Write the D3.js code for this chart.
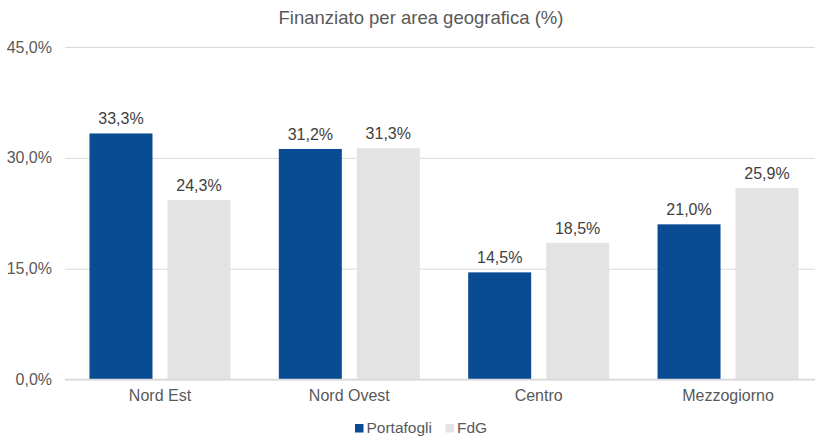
<!DOCTYPE html>
<html><head><meta charset="utf-8">
<script src="https://cdn.jsdelivr.net/npm/d3@7"></script>
<style>body{margin:0;background:#fff;}svg{display:block;font-family:"Liberation Sans",Arial,sans-serif;}</style>
</head><body>
<script>
const categories = ["Nord Est", "Nord Ovest", "Centro", "Mezzogiorno"];
const seriesNames = ["Portafogli", "FdG"];
const portafogli = [33.3, 31.2, 14.5, 21.0];
const fdg = [24.3, 31.3, 18.5, 25.9];
const yTicks = [0, 15, 30, 45];
const title = "Finanziato per area geografica (%)";
const colors = ["#0a4c94", "#e3e3e3"];

const W = 815, H = 437;
const svg = d3.select("body").append("svg").attr("width", W).attr("height", H);
const fmt = v => d3.format(".1f")(v).replace(".", ",") + "%";

const x = d3.scaleBand().domain(categories).range([65.3, 822.7]).paddingInner(0).paddingOuter(0);
const xs = d3.scaleBand().domain(seriesNames).range([0, x.bandwidth()]).paddingInner(0.192).paddingOuter(0.31);
const y = d3.scaleLinear().domain([0, 45]).range([379.5, 47]);

// title
svg.append("text").attr("x", 421).attr("y", 24).attr("text-anchor", "middle")
  .attr("font-size", 18.5).attr("fill", "#595959").text(title);

// grid
const yAxis = d3.axisLeft(y).tickValues(yTicks).tickFormat(fmt).tickSize(-(W - 65)).tickPadding(13);
const gy = svg.append("g").attr("transform", "translate(65,0)").call(yAxis);
gy.select(".domain").remove();
gy.selectAll(".tick line").attr("stroke", "#d9d9d9").attr("stroke-width", 1);
gy.selectAll(".tick text").attr("font-size", 16).attr("fill", "#595959").attr("font-family", "Liberation Sans, Arial, sans-serif");

const data = categories.map((c, i) => ({cat: c, vals: [portafogli[i], fdg[i]]}));
const groups = svg.selectAll("g.cat").data(data).join("g").attr("class", "cat")
  .attr("transform", d => `translate(${x(d.cat)},0)`);
groups.selectAll("rect").data(d => d.vals.map((v, j) => ({s: seriesNames[j], v, j})))
  .join("rect")
  .attr("x", d => xs(d.s)).attr("width", xs.bandwidth())
  .attr("y", d => y(d.v)).attr("height", d => y(0) - y(d.v))
  .attr("fill", d => colors[d.j]);
groups.selectAll("text.lbl").data(d => d.vals.map((v, j) => ({s: seriesNames[j], v, j})))
  .join("text").attr("class", "lbl")
  .attr("x", d => xs(d.s) + xs.bandwidth() / 2).attr("y", d => y(d.v) - 9)
  .attr("text-anchor", "middle").attr("font-size", 16).attr("fill", "#404040")
  .text(d => fmt(d.v));

// x axis baseline
svg.append("line").attr("x1", 65).attr("x2", W).attr("y1", y(0)).attr("y2", y(0))
  .attr("stroke", "#d9d9d9").attr("stroke-width", 1.5);
const xAxis = d3.axisBottom(x).tickSize(0).tickPadding(10);
const gx = svg.append("g").attr("transform", `translate(0,${y(0)})`).call(xAxis);
gx.select(".domain").remove();
gx.selectAll(".tick text").attr("font-size", 16).attr("fill", "#595959").attr("font-family", "Liberation Sans, Arial, sans-serif");

// legend
const leg = svg.append("g");
const legItems = [{n: seriesNames[0], x: 355}, {n: seriesNames[1], x: 445.5}];
legItems.forEach((it, i) => {
  leg.append("rect").attr("x", it.x).attr("y", 424).attr("width", 8.5).attr("height", 8.5).attr("fill", colors[i]);
  leg.append("text").attr("x", it.x + 11.5).attr("y", 433).attr("font-size", 15.5).attr("fill", "#595959").text(it.n);
});
</script>
</body></html>
